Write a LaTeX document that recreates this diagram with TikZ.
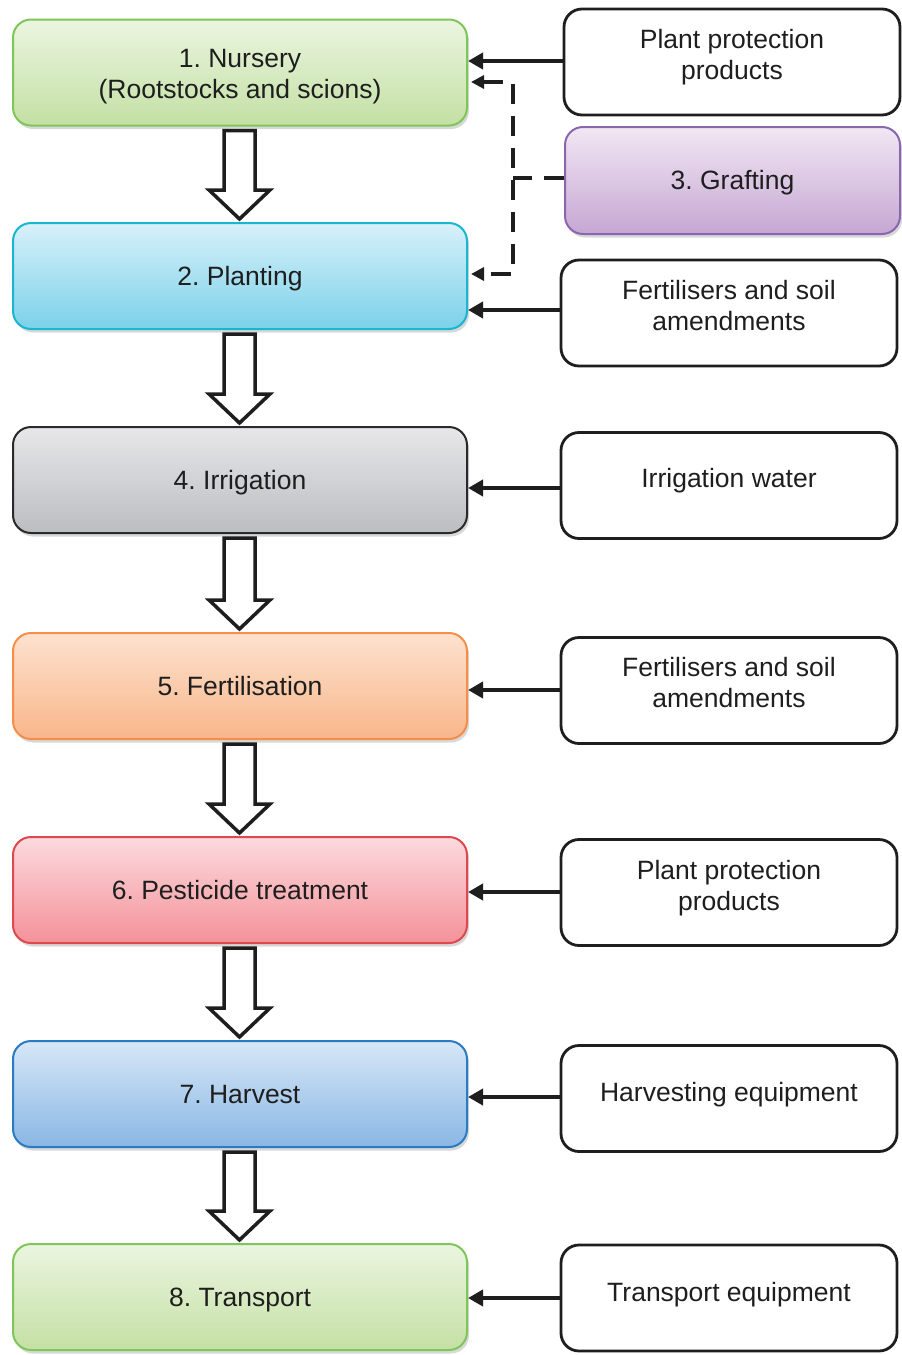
\documentclass[tikz,border=0pt]{standalone}
\usepackage{fontspec}
\setmainfont{Liberation Sans}
\usetikzlibrary{arrows.meta,shadows,calc}
\frenchspacing
\definecolor{grTop}{HTML}{EBF5E0}\definecolor{grBot}{HTML}{C4E0A4}\definecolor{grLine}{HTML}{7FC65A}
\definecolor{cyTop}{HTML}{D8F1F9}\definecolor{cyBot}{HTML}{7BD1EA}\definecolor{cyLine}{HTML}{19B7CF}
\definecolor{gyTop}{HTML}{E7E7E9}\definecolor{gyBot}{HTML}{BBBDC1}\definecolor{gyLine}{HTML}{2A2A2A}
\definecolor{orTop}{HTML}{FDE2CF}\definecolor{orBot}{HTML}{F8B68A}\definecolor{orLine}{HTML}{F58E4A}
\definecolor{rdTop}{HTML}{FBDADE}\definecolor{rdBot}{HTML}{F49299}\definecolor{rdLine}{HTML}{E0484F}
\definecolor{blTop}{HTML}{D7E7F7}\definecolor{blBot}{HTML}{89B7E4}\definecolor{blLine}{HTML}{2A7BC3}
\definecolor{puTop}{HTML}{F1E7F3}\definecolor{puBot}{HTML}{C6A7D3}\definecolor{puLine}{HTML}{8A66B0}
\definecolor{ink}{HTML}{1E1E1E}
\newcommand\txtfont{\fontsize{26.5}{31}\selectfont}
% text moved vertically by #1 while keeping its size
\newcommand\tx[2]{\raisebox{#1}[\height][\depth]{\begin{tabular}{@{}c@{}}#2\end{tabular}}}
\newcommand\blockarr[2]{%
  \draw[blockarrow] let \p1=(#1.south), \p2=(#2.north) in
    (\x1-16pt,\y1-4pt) -- (\x1+15pt,\y1-4pt) -- (\x1+15pt,\y2+32pt) -- (\x1+30pt,\y2+32pt)
    -- (\x1-0.5pt,\y2+3pt) -- (\x1-31pt,\y2+32pt) -- (\x1-16pt,\y2+32pt) -- cycle;}
\tikzset{
  stage/.style n args={3}{rounded corners=18pt, minimum width=454pt, minimum height=106pt,
    line width=2pt, align=center, inner sep=0pt, text=ink, font=\txtfont,
    draw=#3, top color=#1, bottom color=#2,
    drop shadow={shadow xshift=2pt, shadow yshift=-3.5pt, fill=black!30, opacity=0.5}},
  inbox/.style={rounded corners=18pt, minimum width=336pt, minimum height=106pt,
    line width=2.8pt, draw=ink, fill=white, align=center, inner sep=0pt, text=ink, font=\txtfont},
  feed/.style={line width=4.5pt, draw=ink, -{Triangle[length=15pt,width=16pt]}},
  dashfeed/.style={line width=4pt, draw=ink, dash pattern=on 20pt off 12pt,
    {Triangle[length=13pt,width=13pt]}-{Triangle[length=13pt,width=13pt]}},
  dashline/.style={line width=4pt, draw=ink, dash pattern=on 20pt off 12pt},
  blockarrow/.style={line width=3.5pt, draw=ink, fill=white, line join=miter},
}
\begin{document}
\begin{tikzpicture}[x=1pt,y=-1pt]
\useasboundingbox (0,0) rectangle (902,1355);
% stages
\node[stage={grTop}{grBot}{grLine}] (nursery) at (240,72.5) {\tx{-4pt}{1. Nursery\\(Rootstocks and scions)}};
\node[stage={cyTop}{cyBot}{cyLine}] (planting) at (240,276) {\tx{-3pt}{2. Planting}};
\node[stage={gyTop}{gyBot}{gyLine}] (irrig) at (240,480) {\tx{-3pt}{4. Irrigation}};
\node[stage={orTop}{orBot}{orLine}] (fert) at (240,686) {\tx{-3pt}{5. Fertilisation}};
\node[stage={rdTop}{rdBot}{rdLine}] (pest) at (240,890) {\tx{-3pt}{6. Pesticide treatment}};
\node[stage={blTop}{blBot}{blLine}] (harv) at (240,1094) {\tx{-3pt}{7. Harvest}};
\node[stage={grTop}{grBot}{grLine}] (trans) at (240,1297) {\tx{-3pt}{8. Transport}};
% inputs
\node[inbox] (ppp1) at (732,62) {\tx{4.5pt}{Plant protection\\products}};
\node[stage={puTop}{puBot}{puLine}, minimum width=335pt, minimum height=107pt] (graft) at (732.5,180.5) {\tx{-3pt}{3. Grafting}};
\node[inbox] (fsa1) at (729,313) {\tx{4.5pt}{Fertilisers and soil\\amendments}};
\node[inbox] (water) at (729,485.5) {\tx{4pt}{Irrigation water}};
\node[inbox] (fsa2) at (729,690.5) {\tx{4.5pt}{Fertilisers and soil\\amendments}};
\node[inbox] (ppp2) at (729,892.5) {\tx{4pt}{Plant protection\\products}};
\node[inbox] (hequip) at (729,1098.5) {\tx{3pt}{Harvesting equipment}};
\node[inbox] (tequip) at (729,1298) {\tx{3pt}{Transport equipment}};
% solid feeds
\draw[feed] (ppp1.west |- 0,61) -- (nursery.east |- 0,61);
\draw[feed] (fsa1.west |- 0,310) -- (planting.east |- 0,310);
\draw[feed] (water.west |- 0,488) -- (irrig.east |- 0,488);
\draw[feed] (fsa2.west |- 0,690) -- (fert.east |- 0,690);
\draw[feed] (ppp2.west |- 0,892) -- (pest.east |- 0,892);
\draw[feed] (hequip.west |- 0,1097) -- (harv.east |- 0,1097);
\draw[feed] (tequip.west |- 0,1298) -- (trans.east |- 0,1298);
% dashed feeds from grafting
\coordinate (ja) at (513,82);
\coordinate (jb) at (513,274);
\coordinate (jm) at (513,178);
\draw[dashline] (graft.west |- jm) -- (jm);
\draw[dashfeed] ([xshift=3pt]nursery.east |- ja) -- (ja) -- (jb) -- ([xshift=3pt]planting.east |- jb);
% block arrows
\blockarr{nursery}{planting}
\blockarr{planting}{irrig}
\blockarr{irrig}{fert}
\blockarr{fert}{pest}
\blockarr{pest}{harv}
\blockarr{harv}{trans}
\end{tikzpicture}
\end{document}
